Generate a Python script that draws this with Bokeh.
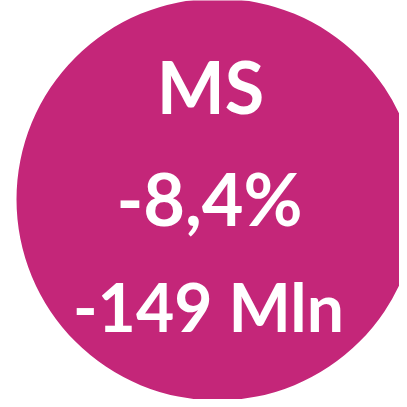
from bokeh.plotting import figure
from bokeh.models import ColumnDataSource, Range1d
from bokeh.core.properties import value
from bokeh.embed import file_html
from bokeh.resources import INLINE

# data
labels = ["MS", "-8,4%", "-149 Mln"]
label_colors = ["#FFFFFF", "#FFFFFF", "#FFFFFF"]
bubble_color = "#C42679"

# layout (page pixel coordinates)
row_x = [218, 217, 216]
row_baseline = [93, 205, 314]
row_size = ["72px", "72px", "66px"]
cx, cy, r = 225, 207, 201

p = figure(width=399, height=399, output_backend="svg", toolbar_location=None,
           x_range=Range1d(8, 407), y_range=Range1d(407, 8),
           min_border=0, outline_line_color=None)
p.axis.visible = False
p.grid.visible = False
p.background_fill_color = "white"
p.border_fill_color = "white"

p.circle(x=[cx], y=[cy], radius=r, fill_color=bubble_color, line_color=None)

src = ColumnDataSource(dict(x=row_x, y=row_baseline, t=labels, c=label_colors, s=row_size))
p.text(x="x", y="y", text="t", source=src, text_color="c",
       text_font=value("Lato"), text_font_style="bold", text_font_size="s",
       text_align="center", text_baseline="alphabetic")

open("out.html", "w").write(file_html(p, INLINE))
